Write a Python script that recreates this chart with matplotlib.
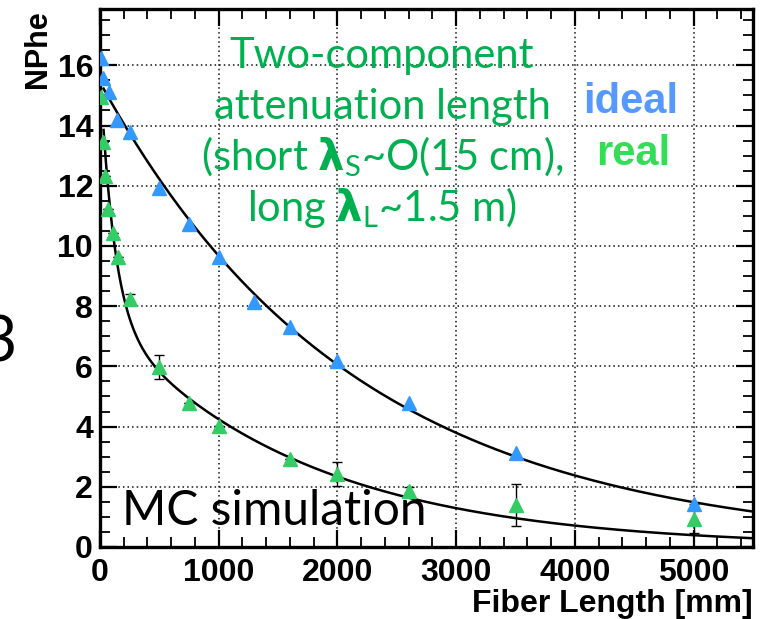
import numpy as np
import matplotlib
matplotlib.use("Agg")
import matplotlib.pyplot as plt
from matplotlib.ticker import MultipleLocator

plt.rcParams['mathtext.fontset'] = 'custom'
plt.rcParams['mathtext.rm'] = 'Lato'
plt.rcParams['mathtext.bf'] = 'DejaVu Sans:bold'

# ---- data ----
x_ideal = [10, 28, 78, 145, 250, 500, 750, 1000, 1300, 1600, 2000, 2600, 3500, 5000]
y_ideal = [16.23, 15.57, 15.12, 14.18, 13.77, 11.93, 10.73, 9.64, 8.15, 7.32, 6.18, 4.79, 3.11, 1.42]

x_real = [5, 28, 42, 70, 107, 150, 250, 500, 750, 1000, 1600, 2000, 2600, 3500, 5000]
y_real = [14.96, 13.45, 12.33, 11.22, 10.43, 9.63, 8.24, 5.97, 4.77, 4.03, 2.92, 2.43, 1.86, 1.40, 0.94]
e_real = [0, 0, 0, 0, 0, 0, 0.15, 0.40, 0, 0, 0, 0.39, 0.12, 0.70, 0.48]

# fit parameters (single exp for ideal, two-component for real)
ideal_A, ideal_lam = 15.44, 2137.0
real_AS, real_lamS = 8.14, 117.0
real_AL, real_lamL = 7.69, 1680.0

W, H = 766, 619
fig = plt.figure(figsize=(W / 100, H / 100), dpi=100)
ax = fig.add_axes([100 / W, 1 - 547 / H, (753 - 100) / W, (547 - 9) / H])

xf = np.linspace(30, 5500, 600)
ax.plot(xf, ideal_A * np.exp(-xf / ideal_lam), color='k', lw=1.8, zorder=3)
ax.plot(xf, real_AS * np.exp(-xf / real_lamS) + real_AL * np.exp(-xf / real_lamL),
        color='k', lw=1.8, zorder=3)

ax.errorbar(x_real, y_real, yerr=e_real, fmt='none', ecolor='k', elinewidth=1,
            capsize=3.5, capthick=1, zorder=4)
ax.plot(x_ideal, y_ideal, linestyle='none', marker='^', ms=10, color='#3399FF', zorder=5)
ax.plot(x_real, y_real, linestyle='none', marker='^', ms=10, color='#33CC66', zorder=5)

ax.set_xlim(0, 5500)
ax.set_ylim(0, 17.87)
ax.xaxis.set_major_locator(MultipleLocator(1000))
ax.xaxis.set_minor_locator(MultipleLocator(200))
ax.yaxis.set_major_locator(MultipleLocator(2))
ax.yaxis.set_minor_locator(MultipleLocator(0.5))
ax.tick_params(which='both', direction='in', top=True, right=True)
ax.tick_params(which='major', length=12, width=1.6)
ax.tick_params(which='minor', length=7, width=1.3)
ax.tick_params(axis='y', which='major', pad=5)
ax.tick_params(axis='x', which='major', pad=8)
for lab in ax.get_xticklabels() + ax.get_yticklabels():
    lab.set_fontfamily('Liberation Sans')
    lab.set_fontweight('bold')
    lab.set_fontsize(23)
for s in ax.spines.values():
    s.set_linewidth(2.4)
ax.grid(True, which='major', linestyle=(0, (1, 2)), color='#111111', linewidth=1.1)

ax.set_ylabel('NPhe', fontfamily='Liberation Sans', fontweight='bold', fontsize=22)
ax.yaxis.set_label_coords(38 / W, 1 - 10 / H, transform=fig.transFigure)
ax.yaxis.label.set_va('center')
ax.yaxis.label.set_ha('right')
ax.set_xlabel('Fiber Length [mm]', fontfamily='Liberation Sans', fontweight='bold', fontsize=23)
ax.xaxis.set_label_coords(753 / W, 1 - 612 / H, transform=fig.transFigure)
ax.xaxis.label.set_ha('right')
ax.xaxis.label.set_va('baseline')

def ftxt(x, y, s, **kw):
    fig.text(x / W, 1 - y / H, s, **kw)

green = '#00B050'
lines = ['Two-component', 'attenuation length',
         r'(short $\mathbf{\lambda}_{\mathrm{S}}$~O(15 cm),',
         r'long $\mathbf{\lambda}_{\mathrm{L}}$~1.5 m)']
bases = [68, 119, 170, 221]
for s, b in zip(lines, bases):
    ftxt(382, b, s, ha='center', va='baseline', fontfamily='Lato', fontsize=30, color=green)

ftxt(631, 113, 'ideal', ha='center', va='baseline', fontfamily='Liberation Sans',
     fontweight='bold', fontsize=30, color='#5599FF')
ftxt(633, 165, 'real', ha='center', va='baseline', fontfamily='Liberation Sans',
     fontweight='bold', fontsize=30, color='#33DD55')

ftxt(122, 525, 'MC simulation', ha='left', va='baseline', fontfamily='Lato',
     fontsize=34.5, color='k')

ftxt(17, 362, '3', ha='right', va='baseline', fontfamily='Lato', fontsize=45, color='k')

fig.savefig('out.png', dpi=100)
